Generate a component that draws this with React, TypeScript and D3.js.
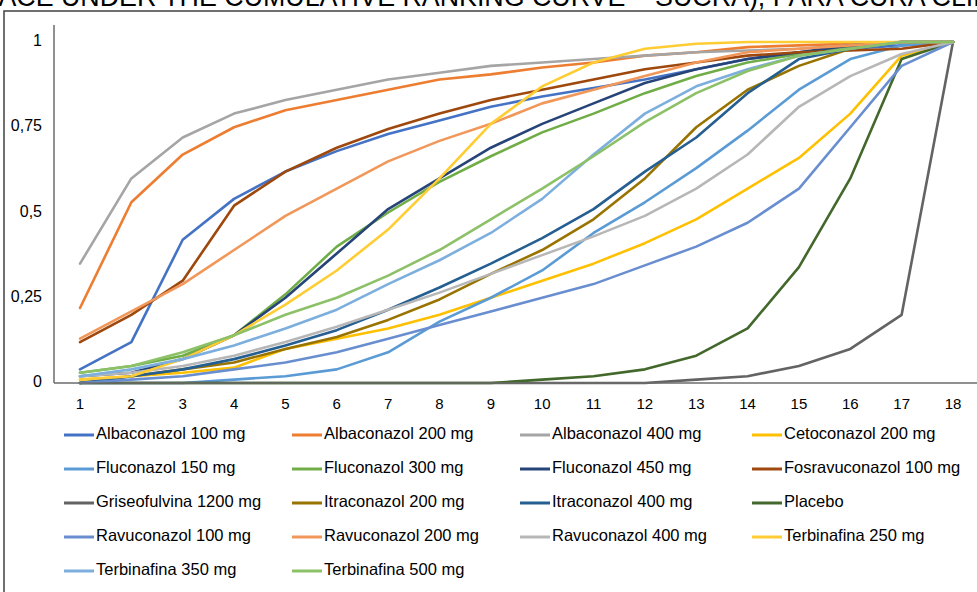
import React from 'react';
import * as d3 from 'd3';

const ranks = [1, 2, 3, 4, 5, 6, 7, 8, 9, 10, 11, 12, 13, 14, 15, 16, 17, 18];
const yTicks = [0, 0.25, 0.5, 0.75, 1];
const yTickLabels = ['0', '0,25', '0,5', '0,75', '1'];

const names = [
  'Albaconazol 100 mg', 'Albaconazol 200 mg', 'Albaconazol 400 mg', 'Cetoconazol 200 mg',
  'Fluconazol 150 mg', 'Fluconazol 300 mg', 'Fluconazol 450 mg', 'Fosravuconazol 100 mg',
  'Griseofulvina 1200 mg', 'Itraconazol 200 mg', 'Itraconazol 400 mg', 'Placebo',
  'Ravuconazol 100 mg', 'Ravuconazol 200 mg', 'Ravuconazol 400 mg', 'Terbinafina 250 mg',
  'Terbinafina 350 mg', 'Terbinafina 500 mg',
];

const colors = [
  '#4472c4', '#ed7d31', '#a5a5a5', '#ffc000',
  '#5b9bd5', '#70ad47', '#264478', '#9e480e',
  '#636363', '#997300', '#255e91', '#43682b',
  '#698ed0', '#f1975a', '#b7b7b7', '#ffcd33',
  '#7cafdd', '#8cc168',
];

const albaconazol100 = [0.04, 0.12, 0.42, 0.54, 0.62, 0.68, 0.73, 0.77, 0.81, 0.84, 0.865, 0.89, 0.92, 0.95, 0.97, 0.98, 0.99, 1];
const albaconazol200 = [0.22, 0.53, 0.67, 0.75, 0.8, 0.83, 0.86, 0.89, 0.905, 0.925, 0.94, 0.96, 0.97, 0.985, 0.99, 0.995, 1, 1];
const albaconazol400 = [0.35, 0.6, 0.72, 0.79, 0.83, 0.86, 0.89, 0.91, 0.93, 0.94, 0.95, 0.96, 0.97, 0.975, 0.98, 0.99, 1, 1];
const cetoconazol200 = [0.01, 0.02, 0.03, 0.045, 0.1, 0.13, 0.16, 0.2, 0.25, 0.3, 0.35, 0.41, 0.48, 0.57, 0.66, 0.79, 0.96, 1];
const fluconazol150 = [0, 0, 0, 0.01, 0.02, 0.04, 0.09, 0.18, 0.25, 0.33, 0.44, 0.53, 0.63, 0.74, 0.86, 0.95, 0.99, 1];
const fluconazol300 = [0.03, 0.05, 0.08, 0.14, 0.26, 0.4, 0.5, 0.59, 0.665, 0.735, 0.79, 0.85, 0.9, 0.94, 0.965, 0.985, 1, 1];
const fluconazol450 = [0.02, 0.03, 0.07, 0.14, 0.25, 0.38, 0.51, 0.6, 0.69, 0.76, 0.82, 0.88, 0.92, 0.95, 0.97, 0.99, 1, 1];
const fosravuconazol100 = [0.12, 0.2, 0.3, 0.52, 0.62, 0.69, 0.745, 0.79, 0.83, 0.86, 0.89, 0.92, 0.94, 0.96, 0.97, 0.975, 0.98, 1];
const griseofulvina1200 = [0, 0, 0, 0, 0, 0, 0, 0, 0, 0, 0, 0, 0.01, 0.02, 0.05, 0.1, 0.2, 1];
const itraconazol200 = [0, 0.02, 0.04, 0.06, 0.1, 0.135, 0.185, 0.245, 0.32, 0.39, 0.48, 0.6, 0.75, 0.86, 0.93, 0.98, 1, 1];
const itraconazol400 = [0, 0.02, 0.04, 0.07, 0.11, 0.155, 0.215, 0.28, 0.35, 0.425, 0.51, 0.62, 0.72, 0.85, 0.95, 0.98, 1, 1];
const placebo = [0, 0, 0, 0, 0, 0, 0, 0, 0, 0.01, 0.02, 0.04, 0.08, 0.16, 0.34, 0.6, 0.95, 1];
const ravuconazol100 = [0, 0.01, 0.02, 0.04, 0.06, 0.09, 0.13, 0.17, 0.21, 0.25, 0.29, 0.345, 0.4, 0.47, 0.57, 0.75, 0.93, 1];
const ravuconazol200 = [0.13, 0.21, 0.29, 0.39, 0.49, 0.57, 0.65, 0.71, 0.76, 0.82, 0.86, 0.9, 0.94, 0.97, 0.98, 0.99, 1, 1];
const ravuconazol400 = [0.02, 0.03, 0.05, 0.08, 0.12, 0.165, 0.215, 0.265, 0.32, 0.375, 0.43, 0.49, 0.57, 0.67, 0.81, 0.9, 0.965, 1];
const terbinafina250 = [0.01, 0.02, 0.07, 0.14, 0.23, 0.33, 0.45, 0.6, 0.76, 0.87, 0.94, 0.98, 0.995, 1, 1, 1, 1, 1];
const terbinafina350 = [0.02, 0.04, 0.07, 0.11, 0.16, 0.215, 0.29, 0.36, 0.44, 0.54, 0.67, 0.79, 0.87, 0.92, 0.96, 0.98, 1, 1];
const terbinafina500 = [0.03, 0.05, 0.09, 0.14, 0.2, 0.25, 0.315, 0.39, 0.48, 0.57, 0.665, 0.765, 0.85, 0.915, 0.96, 0.98, 1, 1];

const seriesValues = [
  albaconazol100, albaconazol200, albaconazol400, cetoconazol200,
  fluconazol150, fluconazol300, fluconazol450, fosravuconazol100,
  griseofulvina1200, itraconazol200, itraconazol400, placebo,
  ravuconazol100, ravuconazol200, ravuconazol400, terbinafina250,
  terbinafina350, terbinafina500,
];

// title is cropped off at the top of the picture, like in the source image
const title = 'SURFACE UNDER THE CUMULATIVE RANKING CURVE – SUCRA), PARA CURA CLÍNICA';

export default function App() {
  const width = 977;
  const height = 592;
  const font = 'Liberation Sans, Arial, sans-serif';

  const x = d3.scaleLinear().domain([1, 18]).range([80, 953]);
  const y = d3.scaleLinear().domain([0, 1]).range([383, 42]);

  const line = d3.line<number>()
    .x((d, i) => x(ranks[i]))
    .y(d => y(d));

  // legend: 4 columns
  const legendX = [64, 292, 520, 752];
  const legendY = 435;
  const legendStep = 34;

  return (
    <svg width={width} height={height} style={{ position: 'fixed', left: 0, top: 0, background: '#fff' }}>
      <text x={-73} y={5.5} fontFamily={font} fontSize={26.8} fill="#000">{title}</text>
      <rect x={4} y={11} width={width + 10} height={height + 10} fill="none" stroke="#404040" strokeWidth={1.5} />

      <line x1={54} x2={54} y1={25} y2={383} stroke="#6b6b6b" strokeWidth={1.5} />
      {yTicks.map((t, i) => (
        <text key={t} x={42} y={y(t)} textAnchor="end" dominantBaseline="middle"
          fontFamily={font} fontSize={16} fill="#000">{yTickLabels[i]}</text>
      ))}

      {seriesValues.map((vals, i) => (
        <path key={names[i]} d={line(vals) || ''} fill="none" stroke={colors[i]}
          strokeWidth={2.6} strokeLinejoin="round" strokeLinecap="round" />
      ))}

      <line x1={54} x2={width} y1={383} y2={383} stroke="#6b6b6b" strokeWidth={1.5} />
      {ranks.map(r => (
        <text key={r} x={x(r)} y={409} textAnchor="middle" fontFamily={font} fontSize={15} fill="#000">{r}</text>
      ))}

      {names.map((n, i) => {
        const col = i % 4;
        const row = Math.floor(i / 4);
        const lx = legendX[col];
        const ly = legendY + row * legendStep;
        return (
          <g key={n}>
            <line x1={lx} x2={lx + 30} y1={ly} y2={ly} stroke={colors[i]} strokeWidth={3} />
            <text x={lx + 32} y={ly} dominantBaseline="middle" fontFamily={font} fontSize={16.5} fill="#000">{n}</text>
          </g>
        );
      })}
    </svg>
  );
}
